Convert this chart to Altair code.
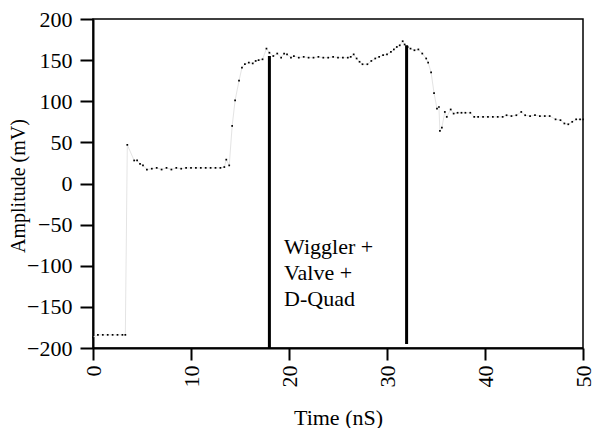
import altair as alt
import pandas as pd

# ---- data ----
time_ns = [0.0, 0.5, 1.0, 1.5, 2.0, 2.5, 3.0, 3.3,
           3.5, 4.2, 4.5, 4.8, 5.1, 5.5, 6.0, 6.5, 7.0, 7.5, 8.0, 8.5, 9.0, 9.5,
           10.0, 10.5, 11.0, 11.5, 12.0, 12.5, 13.0, 13.4, 13.6, 13.9,
           14.2, 14.5, 14.9, 15.2, 15.5, 15.9, 16.3, 16.6, 16.9, 17.3, 17.7,
           18.0, 18.4, 18.8, 19.2, 19.5, 19.8, 20.2, 20.5, 21.0, 21.5, 22.0,
           22.5, 23.0, 23.5, 24.0, 24.5, 25.0, 25.5, 26.0, 26.3, 26.6, 26.9,
           27.2, 27.5, 28.0, 28.4, 28.8, 29.2, 29.6, 30.0, 30.4, 30.7, 31.0,
           31.3, 31.6, 31.8, 32.1, 32.4, 32.8, 33.2, 33.6, 34.0, 34.2, 34.5,
           34.8, 35.1, 35.3, 35.4, 35.6, 35.9, 36.1, 36.5, 36.8, 37.2, 37.6,
           38.0, 38.5, 38.9, 39.3, 39.8, 40.3, 40.8, 41.3, 41.8, 42.2, 42.7,
           43.2, 43.7, 44.1, 44.6, 45.1, 45.6, 46.1, 46.6, 47.2, 47.7, 48.1,
           48.5, 48.9, 49.3, 49.7, 50.0]
amp_mv = [-187, -184, -184, -184, -184, -184, -184, -184,
          47, 28, 28, 24, 22, 17, 18, 19, 17, 19, 17, 19, 18, 19,
          19, 19, 19, 19, 19, 19, 19, 20, 29, 22,
          70, 101, 125, 141, 145, 147, 146, 149, 150, 151, 164,
          159, 155, 158, 153, 158, 157, 153, 155, 153, 154, 153,
          153, 154, 153, 153, 154, 153, 153, 153, 154, 157, 152,
          148, 145, 145, 149, 152, 154, 156, 157, 160, 163, 166,
          168, 173, 169, 166, 164, 162, 163, 158, 152, 147, 135,
          110, 91, 93, 64, 68, 87, 81, 90, 85, 86, 86,
          86, 86, 81, 81, 81, 81, 81, 81, 81, 83, 82,
          83, 87, 83, 82, 83, 82, 82, 82, 78, 77, 73,
          72, 75, 78, 78, 78]

marker_t = [18.0, 32.0]
marker_bottom = [-200, -195]
marker_top = [155, 168]

note_lines = ["Wiggler +", "Valve +", "D-Quad"]
note_y = [-77, -109, -140]
note_x = [19.5, 19.5, 19.5]

x_ticks = [0, 10, 20, 30, 40, 50]
y_ticks = [-200, -150, -100, -50, 0, 50, 100, 150, 200]

FONT = "Liberation Serif"
W, H = 490, 329

sig = pd.DataFrame({"t": time_ns, "v": amp_mv})
mk = pd.DataFrame({"t": marker_t, "lo": marker_bottom, "hi": marker_top})
notes = pd.DataFrame({"t": note_x, "v": note_y, "txt": note_lines})

xs = alt.Scale(domain=[0, 50], nice=False)
ys = alt.Scale(domain=[-200, 200], nice=False)

xax = alt.Axis(values=x_ticks, labelAngle=-90, title="Time (nS)", grid=False,
               tickSize=12, tickWidth=2, domainWidth=2, labelPadding=5,
               titleX=W / 2, titleY=69, titleBaseline="middle",
               titleAlign="center")
yax = alt.Axis(values=y_ticks, title="Amplitude (mV)", grid=False,
               tickSize=13, tickWidth=2, domainWidth=2, labelPadding=8,
               labelFlush=False, titleX=-75, titleY=H / 2 + 2,
               titleAngle=270, titleBaseline="middle", titleAlign="center",
               titleFontSize=20)

line = alt.Chart(sig).mark_line(color="#e4e4e4", strokeWidth=1).encode(
    x=alt.X("t:Q", scale=xs, axis=xax),
    y=alt.Y("v:Q", scale=ys, axis=yax),
)
pts = alt.Chart(sig).mark_square(color="black", size=3, opacity=1).encode(
    x=alt.X("t:Q", scale=xs),
    y=alt.Y("v:Q", scale=ys),
)
rules = alt.Chart(mk).mark_rule(color="black", strokeWidth=3).encode(
    x=alt.X("t:Q", scale=xs),
    y=alt.Y("lo:Q", scale=ys),
    y2="hi:Q",
)
text = alt.Chart(notes).mark_text(align="left", baseline="middle", font=FONT,
                                  fontSize=22, color="black").encode(
    x=alt.X("t:Q", scale=xs),
    y=alt.Y("v:Q", scale=ys),
    text="txt:N",
)

chart = (line + pts + rules + text).properties(
    width=W, height=H,
    autosize=alt.AutoSizeParams(type="none"),
    padding={"left": 85, "top": 11, "right": 11, "bottom": 80},
    background="white",
).configure_view(stroke="black", strokeWidth=1.5).configure_axis(
    labelFont=FONT, titleFont=FONT, labelFontSize=22, titleFontSize=22,
    labelColor="black", titleColor="black", domainColor="black",
    tickColor="black", titleFontWeight="normal",
)

chart.save("out.html", embed_options={"renderer": "svg", "actions": False})
